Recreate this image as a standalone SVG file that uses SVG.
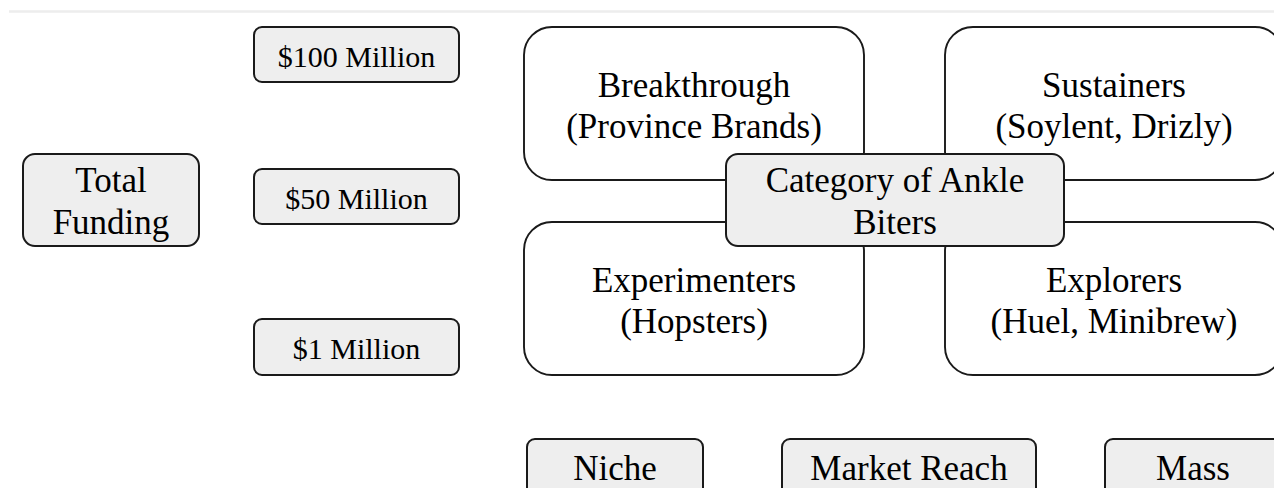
<svg xmlns="http://www.w3.org/2000/svg" width="1274" height="488" viewBox="0 0 1274 488">
<style>
text{font-family:"Liberation Serif","Times New Roman",serif;fill:#000;text-anchor:middle}
.big{font-size:35px}
.mid{font-size:30px}
.pill{fill:#eeeeee;stroke:#1a1a1a;stroke-width:2}
.quad{fill:#ffffff;stroke:#1a1a1a;stroke-width:1.9}
</style>
<rect x="0" y="0" width="1274" height="488" fill="#ffffff"/>
<line x1="9" y1="11.5" x2="1274" y2="11.5" stroke="#ededed" stroke-width="2.5"/>
<g id="connectors"></g>
<g id="total-funding">
<rect class="pill" x="23" y="154" width="176" height="92" rx="12"/>
<text class="big" x="111" y="192">Total</text>
<text class="big" x="111" y="233.5">Funding</text>
</g>
<g id="m100">
<rect class="pill" x="254" y="27" width="205" height="55" rx="8"/>
<text class="mid" x="356.5" y="66.5">$100 Million</text>
</g>
<g id="m50">
<rect class="pill" x="254" y="169" width="205" height="55" rx="8"/>
<text class="mid" x="356.5" y="208.5">$50 Million</text>
</g>
<g id="m1">
<rect class="pill" x="254" y="319" width="205" height="56" rx="8"/>
<text class="mid" x="356.5" y="359">$1 Million</text>
</g>
<g id="breakthrough">
<rect class="quad" x="524" y="27" width="340" height="153" rx="28"/>
<text class="big" x="694" y="96.5">Breakthrough</text>
<text class="big" x="694" y="138">(Province Brands)</text>
</g>
<g id="sustainers">
<rect class="quad" x="945" y="27" width="338" height="153" rx="28"/>
<text class="big" x="1114" y="96.5">Sustainers</text>
<text class="big" x="1114" y="138">(Soylent, Drizly)</text>
</g>
<g id="experimenters">
<rect class="quad" x="524" y="222" width="340" height="153" rx="28"/>
<text class="big" x="694" y="291.5">Experimenters</text>
<text class="big" x="694" y="333">(Hopsters)</text>
</g>
<g id="explorers">
<rect class="quad" x="945" y="222" width="338" height="153" rx="28"/>
<text class="big" x="1114" y="291.5">Explorers</text>
<text class="big" x="1114" y="333">(Huel, Minibrew)</text>
</g>
<g id="category">
<rect class="pill" x="726" y="154" width="338" height="92" rx="12"/>
<text class="big" x="895" y="192">Category of Ankle</text>
<text class="big" x="895" y="233.5">Biters</text>
</g>
<g id="niche">
<rect class="pill" x="527" y="439" width="176" height="60" rx="8"/>
<text class="big" x="615" y="480">Niche</text>
</g>
<g id="market-reach">
<rect class="pill" x="782" y="439" width="254" height="60" rx="8"/>
<text class="big" x="909" y="480">Market Reach</text>
</g>
<g id="mass">
<rect class="pill" x="1105" y="439" width="176" height="60" rx="8"/>
<text class="big" x="1193" y="480">Mass</text>
</g>
</svg>
